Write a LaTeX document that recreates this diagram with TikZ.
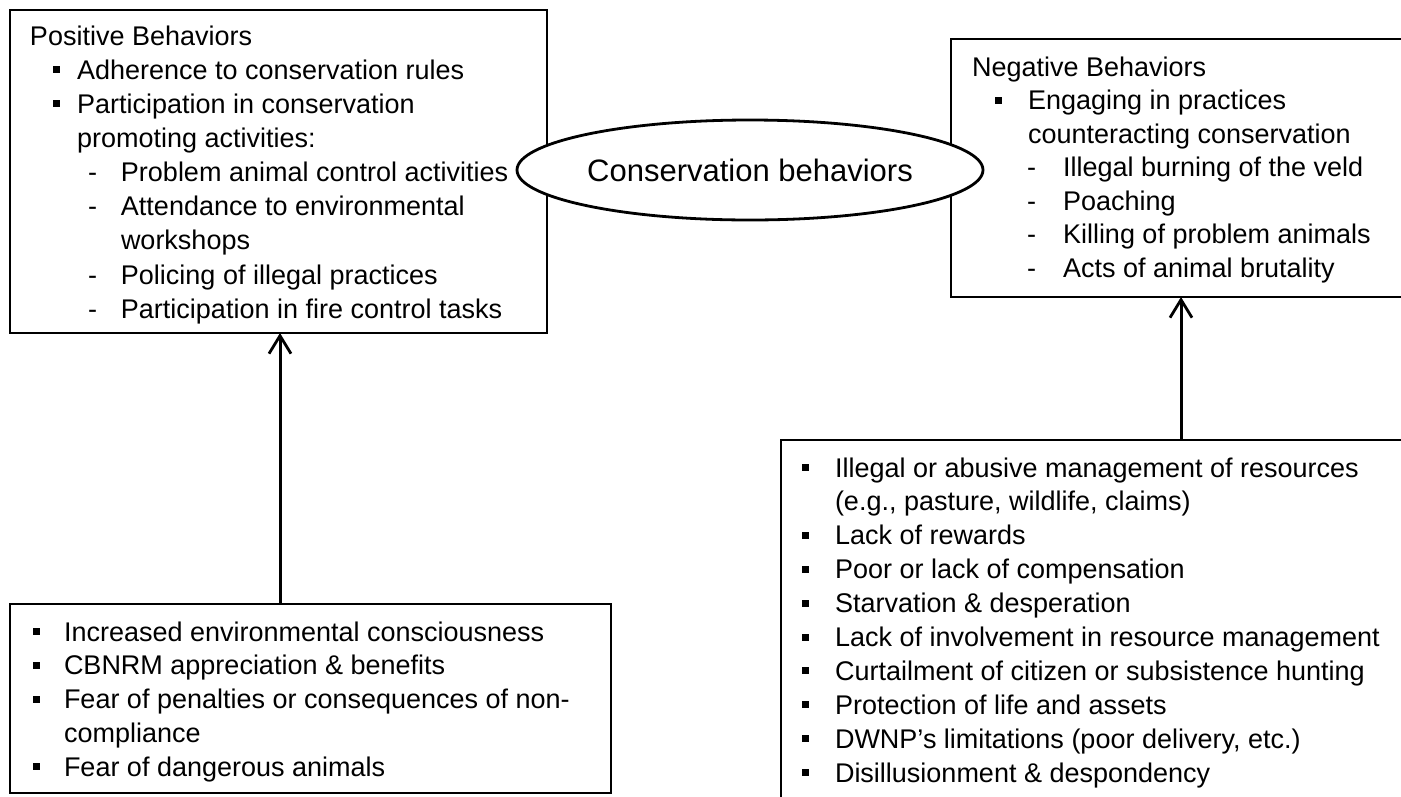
\documentclass[tikz,border=0pt]{standalone}
\usepackage{fontspec}
\setmainfont{Liberation Sans}
\usetikzlibrary{shapes.geometric,arrows.meta}
\newcommand{\bl}[1][24]{\llap{\raisebox{6pt}{\rule{7pt}{7pt}}\hspace{#1pt}}}
\newcommand{\ds}[1][25]{\llap{-\hspace{#1pt}}}
\tikzset{
  box/.style={draw, line width=2.2pt, rectangle, inner sep=0pt, outer sep=0pt},
  txt/.style={anchor=base west, inner sep=0pt, outer sep=0pt, font=\fontsize{27}{32}\selectfont},
  oval/.style={draw, line width=2.8pt, ellipse, fill=white, inner sep=0pt,
    minimum width=466pt, minimum height=100pt, font=\fontsize{31}{36}\selectfont},
  arr/.style={line width=3pt, -{Straight Barb[length=18pt,width=22pt,line width=2.8pt]}}
}
\begin{document}
\begin{tikzpicture}[x=1pt,y=-1pt]
\useasboundingbox (0,0) rectangle (1401,796);
\clip (0,0) rectangle (1401,796);
\fill[white] (0,0) rectangle (1401,796);
% boxes
\node[box, minimum width=537pt, minimum height=323pt] (tl) at (278.5,171.5) {};
\node[box, minimum width=479pt, minimum height=258pt] (tr) at (1190.5,168) {};
\node[box, minimum width=601pt, minimum height=189pt] (bl) at (310.5,698.5) {};
\node[box, minimum width=649pt, minimum height=380pt] (br) at (1105.5,630) {};
% top-left text
\node[txt] (tl0) at (30,45) {Positive Behaviors};
\node[txt] (tl1) at (77,79) {\bl[17]Adherence to conservation rules};
\node[txt] (tl2) at (77,113) {\bl[17]Participation in conservation};
\node[txt] (tl3) at (77,147) {promoting activities:};
\node[txt] (tl4) at (121,181) {\ds[24]Problem animal control activities};
\node[txt] (tl5) at (121,215) {\ds[24]Attendance to environmental};
\node[txt] (tl6) at (121,249) {workshops};
\node[txt] (tl7) at (121,284) {\ds[24]Policing of illegal practices};
\node[txt] (tl8) at (121,318) {\ds[24]Participation in fire control tasks};
% top-right text
\node[txt] (tr0) at (972,76) {Negative Behaviors};
\node[txt] (tr1) at (1028,109.5) {\bl[26]Engaging in practices};
\node[txt] (tr2) at (1028,143) {counteracting conservation};
\node[txt] (tr3) at (1063,176.5) {\ds[27]Illegal burning of the veld};
\node[txt] (tr4) at (1063,210) {\ds[27]Poaching};
\node[txt] (tr5) at (1063,243.5) {\ds[27]Killing of problem animals};
\node[txt] (tr6) at (1063,277) {\ds[27]Acts of animal brutality};
% bottom-left text
\node[txt] (bl0) at (64,641) {\bl[24]Increased environmental consciousness};
\node[txt] (bl1) at (64,674.75) {\bl[24]CBNRM appreciation \& benefits};
\node[txt] (bl2) at (64,708.5) {\bl[24]Fear of penalties or consequences of non-};
\node[txt] (bl3) at (64,742.25) {compliance};
\node[txt] (bl4) at (64,776) {\bl[24]Fear of dangerous animals};
% bottom-right text
\node[txt] (br0) at (835,477) {\bl[26]Illegal or abusive management of resources};
\node[txt] (br1) at (835,510.9) {(e.g., pasture, wildlife, claims)};
\node[txt] (br2) at (835,544.8) {\bl[26]Lack of rewards};
\node[txt] (br3) at (835,578.7) {\bl[26]Poor or lack of compensation};
\node[txt] (br4) at (835,612.6) {\bl[26]Starvation \& desperation};
\node[txt] (br5) at (835,646.5) {\bl[26]Lack of involvement in resource management};
\node[txt] (br6) at (835,680.4) {\bl[26]Curtailment of citizen or subsistence hunting};
\node[txt] (br7) at (835,714.3) {\bl[26]Protection of life and assets};
\node[txt] (br8) at (835,748.2) {\bl[26]DWNP’s limitations (poor delivery, etc.)};
\node[txt] (br9) at (835,782.1) {\bl[26]Disillusionment \& despondency};
% central ellipse
\node[oval] (cb) at (750,170) {Conservation behaviors};
% arrows
\coordinate (ax) at (280,0);
\coordinate (bx) at (1181,0);
\draw[arr] (bl.north -| ax) -- (tl.south -| ax);
\draw[arr] (br.north -| bx) -- (tr.south -| bx);
\end{tikzpicture}
\end{document}
